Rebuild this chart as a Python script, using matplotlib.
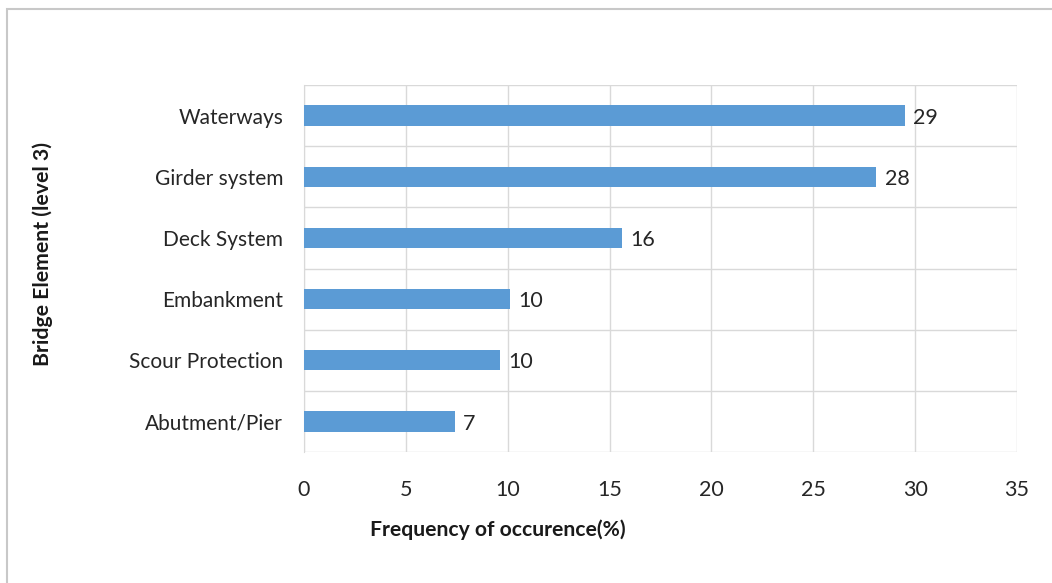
import matplotlib
matplotlib.use("Agg")
import matplotlib.pyplot as plt
from matplotlib.patches import Rectangle

categories = ["Abutment/Pier", "Scour Protection", "Embankment", "Deck System", "Girder system", "Waterways"]
values = [7.4, 9.6, 10.1, 15.6, 28.1, 29.5]
value_labels = ["7", "10", "10", "16", "28", "29"]
xticks = [0, 5, 10, 15, 20, 25, 30, 35]

plt.rcParams['font.family'] = ['Lato', 'DejaVu Sans']

fig = plt.figure(figsize=(10.52, 5.83), dpi=100)
fig.patches.append(Rectangle((7/1052, -0.1), 1.2, 1 - 9/583 + 0.1, transform=fig.transFigure,
                             fill=False, edgecolor="#c8c8c8", linewidth=1.5))
ax = fig.add_axes([304/1052, 1-452/583, (1017-304)/1052, (452-85)/583])

y = list(range(len(categories)))
ax.barh(y, values, height=0.33, color="#5B9BD5", zorder=3)
for yi, v, lab in zip(y, values, value_labels):
    ax.annotate(lab, (v, yi), xytext=(6, -1.5), textcoords="offset points",
                va="center", ha="left", fontsize=15.5, color="#262626")

ax.set_xlim(0, 35)
ax.set_ylim(-0.5, len(categories) - 0.5)
ax.set_xticks(xticks)
ax.set_yticks(y)
ax.set_yticklabels(categories)
ax.set_yticks([i - 0.5 for i in range(len(categories) + 1)], minor=True)
ax.grid(axis="x", color="#d9d9d9", linewidth=1, zorder=0)
ax.grid(axis="y", which="minor", color="#d9d9d9", linewidth=1, zorder=0)
ax.tick_params(axis="both", which="both", length=0)
ax.tick_params(axis="x", pad=20, labelsize=15.5, labelcolor="#262626")
ax.tick_params(axis="y", pad=15, labelsize=15, labelcolor="#262626")
for s in ax.spines.values():
    s.set_visible(False)
ax.spines["left"].set_visible(True)
ax.spines["left"].set_color("#d9d9d9")

fig.text(498/1052, 1-530/583, "Frequency of occurence(%)", fontsize=15.2, fontweight="bold",
         va="center", ha="center", color="#1a1a1a")
fig.text(43/1052, 1-254/583, "Bridge Element (level 3)", rotation=90, fontsize=15.3,
         fontweight="bold", va="center", ha="center", color="#1a1a1a")

fig.savefig("out.png", dpi=100)
